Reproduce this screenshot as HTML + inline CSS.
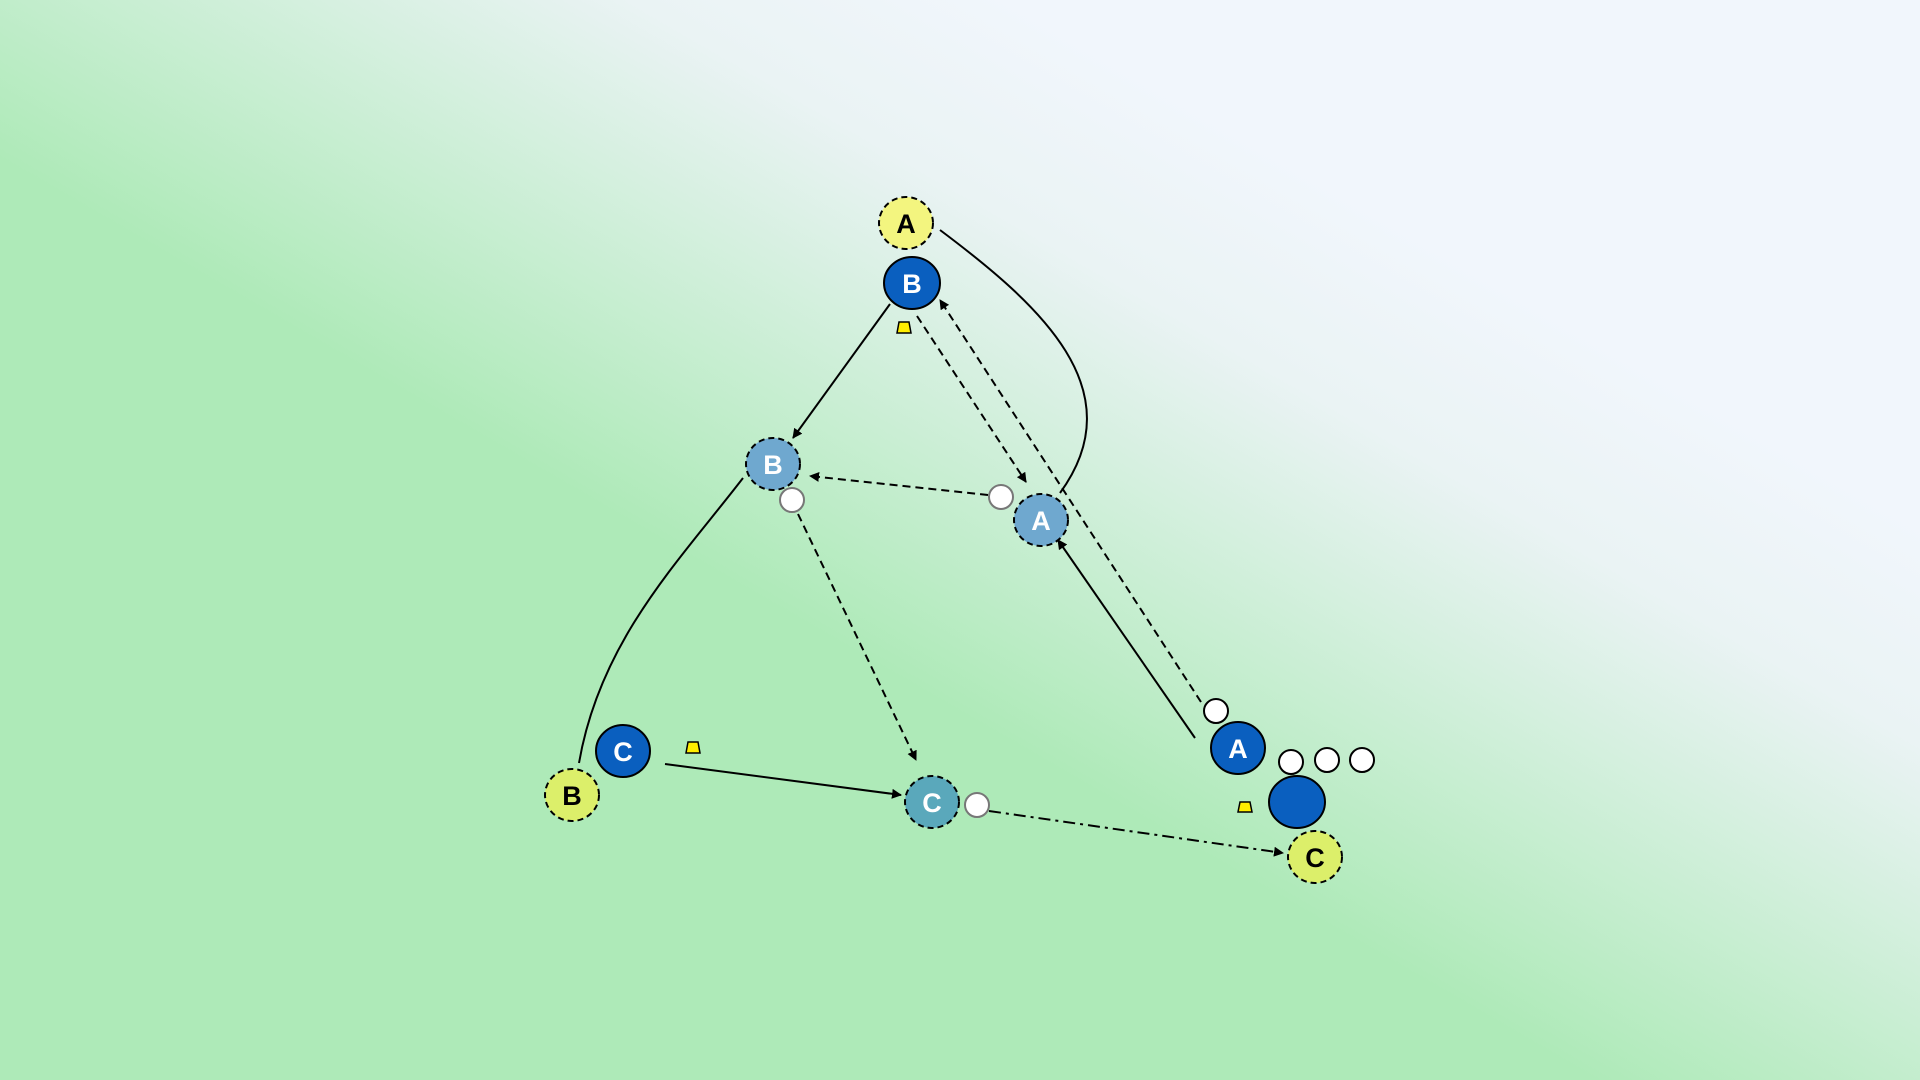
<!DOCTYPE html>
<html><head><meta charset="utf-8"><style>
html,body{margin:0;padding:0}
body{width:1920px;height:1080px;overflow:hidden;background:linear-gradient(30deg,#aeeab8 0%,#aeeab8 42%,#d6f0e0 58%,#eaf3f4 66%,#f1f6fc 76%,#f1f6fc 100%)}
svg{position:absolute;left:0;top:0}
text{font-family:"Liberation Sans",sans-serif;font-weight:bold;font-size:27px;text-anchor:middle;dominant-baseline:central}
</style></head><body>
<svg width="1920" height="1080" viewBox="0 0 1920 1080">
<defs>
<marker id="ah" markerWidth="10" markerHeight="10" refX="9" refY="5" orient="auto" markerUnits="userSpaceOnUse"><path d="M0,0 L10,5 L0,10 z" fill="#000"/></marker>
</defs>
<g fill="none" stroke="#000" stroke-width="2">
<path d="M940,230 C1040,305 1135,390 1060,493"/>
<line x1="890" y1="304" x2="793" y2="438" marker-end="url(#ah)"/>
<line x1="917" y1="316" x2="1026" y2="482" stroke-dasharray="8,5" marker-end="url(#ah)"/>
<line x1="1201" y1="702" x2="940" y2="300" stroke-dasharray="8,5" marker-end="url(#ah)"/>
<line x1="988" y1="495" x2="810" y2="476" stroke-dasharray="8,5" marker-end="url(#ah)"/>
<line x1="798" y1="514" x2="916" y2="760" stroke-dasharray="8,5" marker-end="url(#ah)"/>
<path d="M743,478 C680,560 600,640 579,763"/>
<line x1="665" y1="764" x2="901" y2="795" marker-end="url(#ah)"/>
<line x1="1195" y1="738" x2="1058" y2="540" marker-end="url(#ah)"/>
<line x1="989" y1="811" x2="1283" y2="853" stroke-dasharray="12,5,3,5" marker-end="url(#ah)"/>
</g>
<g stroke="#000" stroke-width="2">
<ellipse cx="906" cy="223" rx="27" ry="26" fill="#f3f57f" stroke-dasharray="6,4"/>
<ellipse cx="912" cy="283" rx="28" ry="26" fill="#0a5fbf"/>
<ellipse cx="773" cy="464" rx="27" ry="26" fill="#6fa8cf" stroke-dasharray="6,4"/>
<ellipse cx="1041" cy="520" rx="27" ry="26" fill="#6fa8cf" stroke-dasharray="6,4"/>
<ellipse cx="1238" cy="748" rx="27" ry="26" fill="#0a5fbf"/>
<ellipse cx="1297" cy="802" rx="28" ry="26" fill="#0a5fbf"/>
<ellipse cx="623" cy="751" rx="27" ry="26" fill="#0a5fbf"/>
<ellipse cx="572" cy="795" rx="27" ry="26" fill="#dcef6a" stroke-dasharray="6,4"/>
<ellipse cx="932" cy="802" rx="27" ry="26" fill="#5aa8bb" stroke-dasharray="6,4"/>
<ellipse cx="1315" cy="857" rx="27" ry="26" fill="#dcef6a" stroke-dasharray="6,4"/>
</g>
<g fill="#fff" stroke="#777" stroke-width="2">
<circle cx="792" cy="500" r="12"/>
<circle cx="1001" cy="497" r="12"/>
<circle cx="977" cy="805" r="12"/>
</g>
<g fill="#fff" stroke="#000" stroke-width="2">
<circle cx="1216" cy="711" r="12"/>
<circle cx="1291" cy="762" r="12"/>
<circle cx="1327" cy="760" r="12"/>
<circle cx="1362" cy="760" r="12"/>
</g>
<g fill="#ffee00" stroke="#000" stroke-width="1.5">
<polygon d="" points="899,322 909,322 911,333 897,333"/>
<polygon points="688,742 698,742 700,753 686,753"/>
<polygon points="1240,802 1250,802 1252,812 1238,812"/>
</g>
<text x="906" y="224" fill="#000">A</text>
<text x="912" y="284" fill="#fff">B</text>
<text x="773" y="465" fill="#fff">B</text>
<text x="1041" y="521" fill="#fff">A</text>
<text x="1238" y="749" fill="#fff">A</text>
<text x="623" y="752" fill="#fff">C</text>
<text x="572" y="796" fill="#000">B</text>
<text x="932" y="803" fill="#fff">C</text>
<text x="1315" y="858" fill="#000">C</text>
</svg>
</body></html>
